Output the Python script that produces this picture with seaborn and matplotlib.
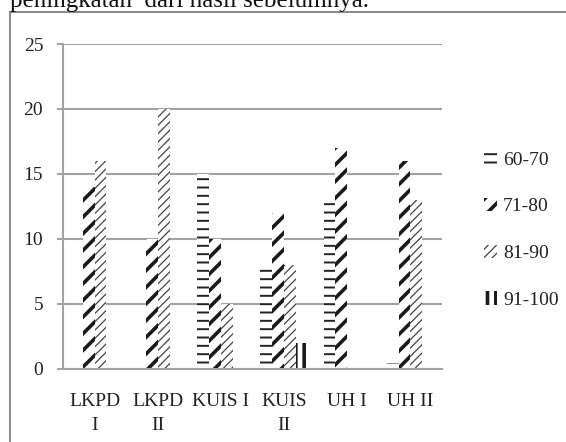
import matplotlib
matplotlib.use("Agg")
import matplotlib.pyplot as plt
from matplotlib.patches import Patch, Rectangle
import seaborn as sns
import pandas as pd

categories = ["LKPD\nI", "LKPD\nII", "KUIS I", "KUIS\nII", "UH I", "UH II"]
series_names = ["60-70", "71-80", "81-90", "91-100"]
v_60_70 = [0, 0, 15, 8, 13, 0.4]
v_71_80 = [14, 10, 10, 12, 17, 16]
v_81_90 = [16, 20, 5, 8, 0, 13]
v_91_100 = [0, 0, 0, 2, 0, 0]
y_ticks = [0, 5, 10, 15, 20, 25]

values = [v_60_70, v_71_80, v_81_90, v_91_100]
rows = []
for name, vals in zip(series_names, values):
    for c, v in zip(categories, vals):
        rows.append({"cat": c, "range": name, "val": v})
df = pd.DataFrame(rows)

sns.set_theme(style="white")
plt.rcParams["font.family"] = ["Liberation Serif", "DejaVu Serif"]

W, H = 566, 442
fig = plt.figure(figsize=(W / 100, H / 100), dpi=100)
ax = fig.add_axes([63 / W, 1 - 368.5 / H, 379 / W, 324.5 / H])

sns.barplot(data=df, x="cat", y="val", hue="range", order=categories,
            hue_order=series_names, width=0.75, legend=False, ax=ax,
            errorbar=None, saturation=1)

styles = [
    dict(hatch="--", color="#222222", lw=1.4),
    dict(hatch="//", color="#1a1a1a", lw=2.6),
    dict(hatch="////", color="#444444", lw=0.9),
    dict(hatch="||", color="#1a1a1a", lw=2.6),
]


def style_patch(p, st):
    p.set_facecolor("white")
    p.set_edgecolor(st["color"])
    p.set_linewidth(0)
    p.set_hatch(st["hatch"])
    if hasattr(p, "set_hatch_linewidth"):
        p.set_hatch_linewidth(st["lw"])
    else:
        p._hatch_linewidth = st["lw"]


for cont, st in zip(ax.containers, styles):
    for p in cont.patches:
        style_patch(p, st)

grid_c = "#a3a3a3"
ax.set_ylim(0, 25)
ax.set_xlim(-0.5, len(categories) - 0.5)
ax.set_yticks(y_ticks)
ax.set_yticklabels([str(t) for t in y_ticks], fontsize=14, color="#222222")
ax.set_xticks(range(len(categories)))
ax.set_xticklabels(categories, fontsize=14, color="#222222", linespacing=1.5)
ax.set_xticks([i - 0.5 for i in range(len(categories) + 1)], minor=True)
ax.tick_params(axis="x", which="major", length=0, pad=18)
ax.tick_params(axis="x", which="minor", length=4, width=1.3, color=grid_c, direction="out")
ax.tick_params(axis="y", which="major", length=4.3, width=1.5, color=grid_c, pad=10, left=True)
ax.set_xlabel("")
ax.set_ylabel("")
ax.yaxis.grid(True, color=grid_c, linewidth=1.5)
ax.set_axisbelow(True)
for s in ["top", "right"]:
    ax.spines[s].set_visible(False)
for s in ["left", "bottom"]:
    ax.spines[s].set_color(grid_c)
    ax.spines[s].set_linewidth(1.5)
ax.set_facecolor("none")

handles = []
for name, st in zip(series_names, styles):
    handles.append(Patch(facecolor="white", edgecolor=st["color"], hatch=st["hatch"],
                         linewidth=0, label=name))
leg = fig.legend(handles=handles, loc="center left", bbox_to_anchor=(476 / W, 1 - 230 / H),
                 frameon=False, fontsize=14, handlelength=0.7, handleheight=0.7,
                 handletextpad=0.3, labelspacing=1.5, borderaxespad=0)
for t in leg.get_texts():
    t.set_color("#222222")
for p, st in zip(leg.get_patches(), styles):
    style_patch(p, st)

fig.add_artist(Rectangle((10 / W, -0.1), 1.2, 1 - 12 / H + 0.1, transform=fig.transFigure,
                         fill=False, edgecolor="#8c8c8c", linewidth=1.5, clip_on=False))
fig.text(10 / W, 1 - 7 / H, "peningkatan  dari hasil sebelumnya.", fontsize=18,
         va="baseline", ha="left", color="#111111")

fig.savefig("out.png", dpi=100, facecolor="white")
